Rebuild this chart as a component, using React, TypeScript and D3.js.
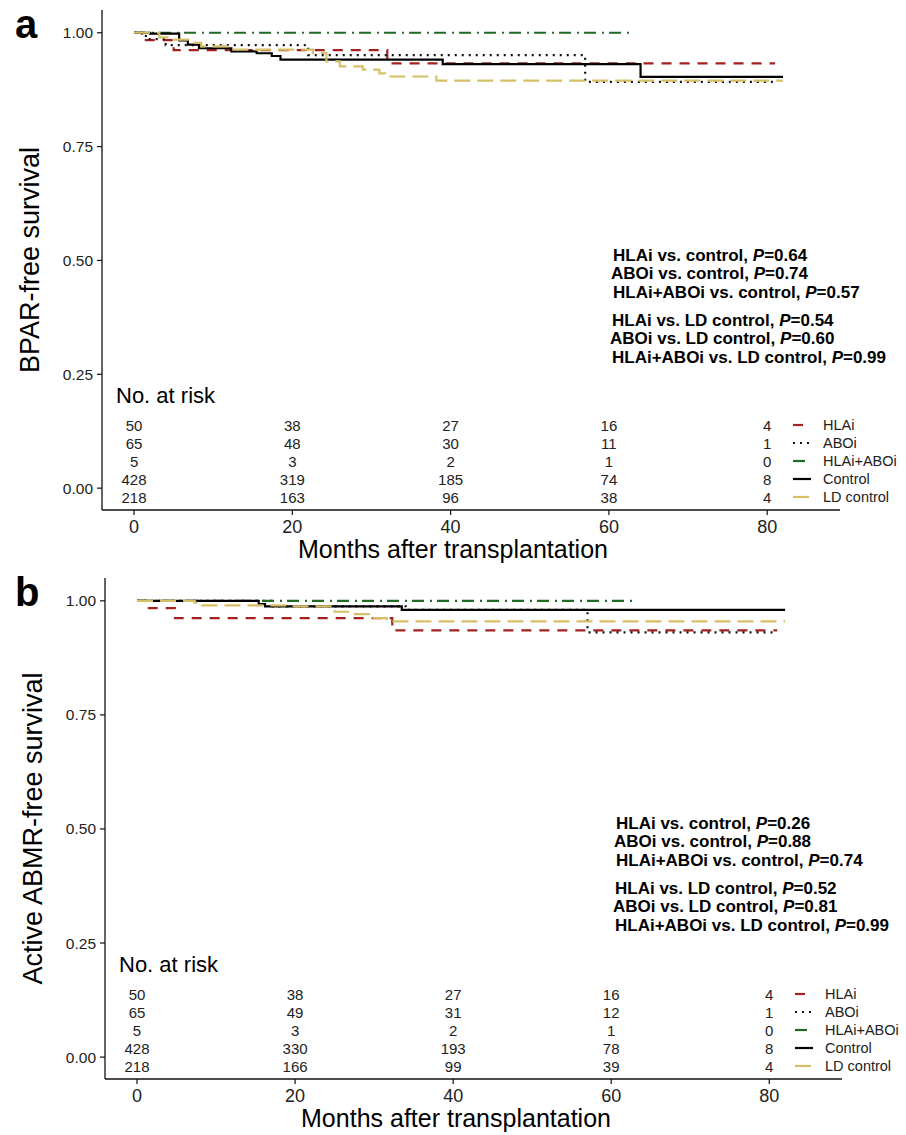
import React from 'react';
import * as d3 from 'd3';

// groups shown in the risk table / legend
const groups = ['HLAi', 'ABOi', 'HLAi+ABOi', 'Control', 'LD control'];
const riskMonths = [0, 20, 40, 60, 80];
const yTicks = [0, 0.25, 0.5, 0.75, 1];

// panel a : BPAR-free survival, [month, survival]
const bparHLAi = [[0, 1], [1, 0.984], [5, 0.962], [32, 0.933], [81, 0.933]];
const bparABOi = [[0, 1], [1.5, 0.986], [4, 0.973], [22, 0.951], [57, 0.892], [81, 0.892]];
const bparCombo = [[0, 1], [63, 1]];
const bparControl = [[0, 1], [2, 0.998], [5.7, 0.983], [6.8, 0.974], [8.2, 0.966], [12.3, 0.959], [15.5, 0.955], [17.4, 0.949], [18.5, 0.941], [39, 0.931], [64, 0.903], [82, 0.903]];
const bparLD = [[0, 1], [3.2, 0.99], [5, 0.985], [7, 0.978], [8.5, 0.97], [12, 0.963], [22.6, 0.956], [24.3, 0.937], [26, 0.926], [28.9, 0.919], [31, 0.911], [31.7, 0.904], [38.2, 0.895], [82, 0.895]];

// panel b : active ABMR-free survival
const abmrHLAi = [[0, 1], [1.5, 0.984], [4.8, 0.962], [32.3, 0.935], [81, 0.935]];
const abmrABOi = [[0, 1], [17, 0.988], [34, 0.98], [57, 0.931], [81, 0.931]];
const abmrCombo = [[0, 1], [63, 1]];
const abmrControl = [[0, 1], [15.4, 0.993], [16.2, 0.988], [33.5, 0.98], [82, 0.98]];
const abmrLD = [[0, 1], [7.3, 0.996], [8.2, 0.99], [19, 0.988], [25, 0.976], [27, 0.971], [29.5, 0.962], [31.6, 0.955], [82, 0.955]];

// numbers at risk (rows follow `groups`)
const bparRisk = [[50, 38, 27, 16, 4], [65, 48, 30, 11, 1], [5, 3, 2, 1, 0], [428, 319, 185, 74, 8], [218, 163, 96, 38, 4]];
const abmrRisk = [[50, 38, 27, 16, 4], [65, 49, 31, 12, 1], [5, 3, 2, 1, 0], [428, 330, 193, 78, 8], [218, 166, 99, 39, 4]];

// log-rank comparisons
const comparisons = ['HLAi vs. control', 'ABOi vs. control', 'HLAi+ABOi vs. control', 'HLAi vs. LD control', 'ABOi vs. LD control', 'HLAi+ABOi vs. LD control'];
const bparP = ['0.64', '0.74', '0.57', '0.54', '0.60', '0.99'];
const abmrP = ['0.26', '0.88', '0.74', '0.52', '0.81', '0.99'];

const styles = [
  { color: '#a3221f', dash: '10,8' },
  { color: '#111', dash: '2,5' },
  { color: '#1f6b23', dash: '12,6,2,5' },
  { color: '#000', dash: null },
  { color: '#d6bf66', dash: '16,7' },
];

const FONT = 'Liberation Sans, Arial, Helvetica, sans-serif';
const pOffsets = [222, 240, 259, 287, 305, 324];
const pIndent = [1, -1, 1, 0, -2, 0];

type PanelProps = {
  letter: string;
  yTitle: string;
  curves: number[][][];
  risk: number[][];
  pvals: string[];
  top: number;
  bottom: number;
  left: number;
  right: number;
};

const Panel = ({ letter, yTitle, curves, risk, pvals, top, bottom, left, right }: PanelProps) => {
  const x = d3.scaleLinear().domain([-4.05, 89.2]).range([left, right]);
  const y = d3.scaleLinear().domain([-0.048, 1.05]).range([bottom, top]);
  const line = d3.line<number[]>()
    .x(d => x(d[0]))
    .y(d => y(d[1]))
    .curve(d3.curveStepAfter);

  const rowY = (i: number) => bottom - 85 + i * 18;

  return (
    <g fontFamily={FONT}>
      <text x={15} y={y(1) + 5} fontSize={40} fontWeight="bold">{letter}</text>

      {/* axes */}
      <line x1={left} x2={left} y1={top} y2={bottom} stroke="#111" strokeWidth={1.3} />
      <line x1={left} x2={right} y1={bottom} y2={bottom} stroke="#111" strokeWidth={1.3} />
      {yTicks.map(t => (
        <g key={t}>
          <line x1={left - 5} x2={left} y1={y(t)} y2={y(t)} stroke="#111" strokeWidth={1.2} />
          <text x={left - 9} y={y(t) + 5.5} fontSize={15.5} textAnchor="end" fill="#222">{t.toFixed(2)}</text>
        </g>
      ))}
      {riskMonths.map(t => (
        <g key={t}>
          <line x1={x(t)} x2={x(t)} y1={bottom} y2={bottom + 5} stroke="#111" strokeWidth={1.2} />
          <text x={x(t)} y={bottom + 23} fontSize={18} textAnchor="middle" fill="#222">{t}</text>
        </g>
      ))}
      <text x={left + 351} y={bottom + 48} fontSize={25} textAnchor="middle">Months after transplantation</text>
      <text transform={`translate(${left - 63},${(top + bottom) / 2}) rotate(-90)`} fontSize={27} textAnchor="middle">{yTitle}</text>

      {/* survival curves */}
      {curves.map((c, i) => (
        <path key={i} d={line(c) || ''} fill="none" stroke={styles[i].color} strokeWidth={2.2}
          strokeDasharray={styles[i].dash || undefined} />
      ))}

      {/* p values */}
      {pvals.map((p, i) => (
        <text key={i} x={left + 510 + pIndent[i]} y={y(1) + pOffsets[i] + 6} fontSize={17} fontWeight="bold">
          {comparisons[i]}, <tspan fontStyle="italic">P</tspan>={p}
        </text>
      ))}

      {/* risk table */}
      <text x={left + 14} y={bottom - 107} fontSize={22}>No. at risk</text>
      {risk.map((row, i) => (
        <g key={i}>
          {row.map((v, j) => (
            <text key={j} x={x(riskMonths[j])} y={rowY(i) + 5.5} fontSize={15} textAnchor="middle" fill="#222">{v}</text>
          ))}
          <line x1={right - 47} x2={right - 29} y1={rowY(i)} y2={rowY(i)} stroke={styles[i].color}
            strokeWidth={2.2} strokeDasharray={styles[i].dash || undefined} />
          <text x={right - 17} y={rowY(i) + 5} fontSize={14.5} fill="#222">{groups[i]}</text>
        </g>
      ))}
    </g>
  );
};

export default function App() {
  return (
    <svg width={906} height={1135} style={{ position: 'absolute', left: 0, top: 0, background: '#fff' }}>
      <rect width={906} height={1135} fill="#fff" />
      <Panel letter="a" yTitle="BPAR-free survival"
        curves={[bparHLAi, bparABOi, bparCombo, bparControl, bparLD]}
        risk={bparRisk} pvals={bparP} top={10} bottom={510} left={102} right={840} />
      <Panel letter="b" yTitle="Active ABMR-free survival"
        curves={[abmrHLAi, abmrABOi, abmrCombo, abmrControl, abmrLD]}
        risk={abmrRisk} pvals={abmrP} top={578} bottom={1079} left={105} right={842} />
    </svg>
  );
}
